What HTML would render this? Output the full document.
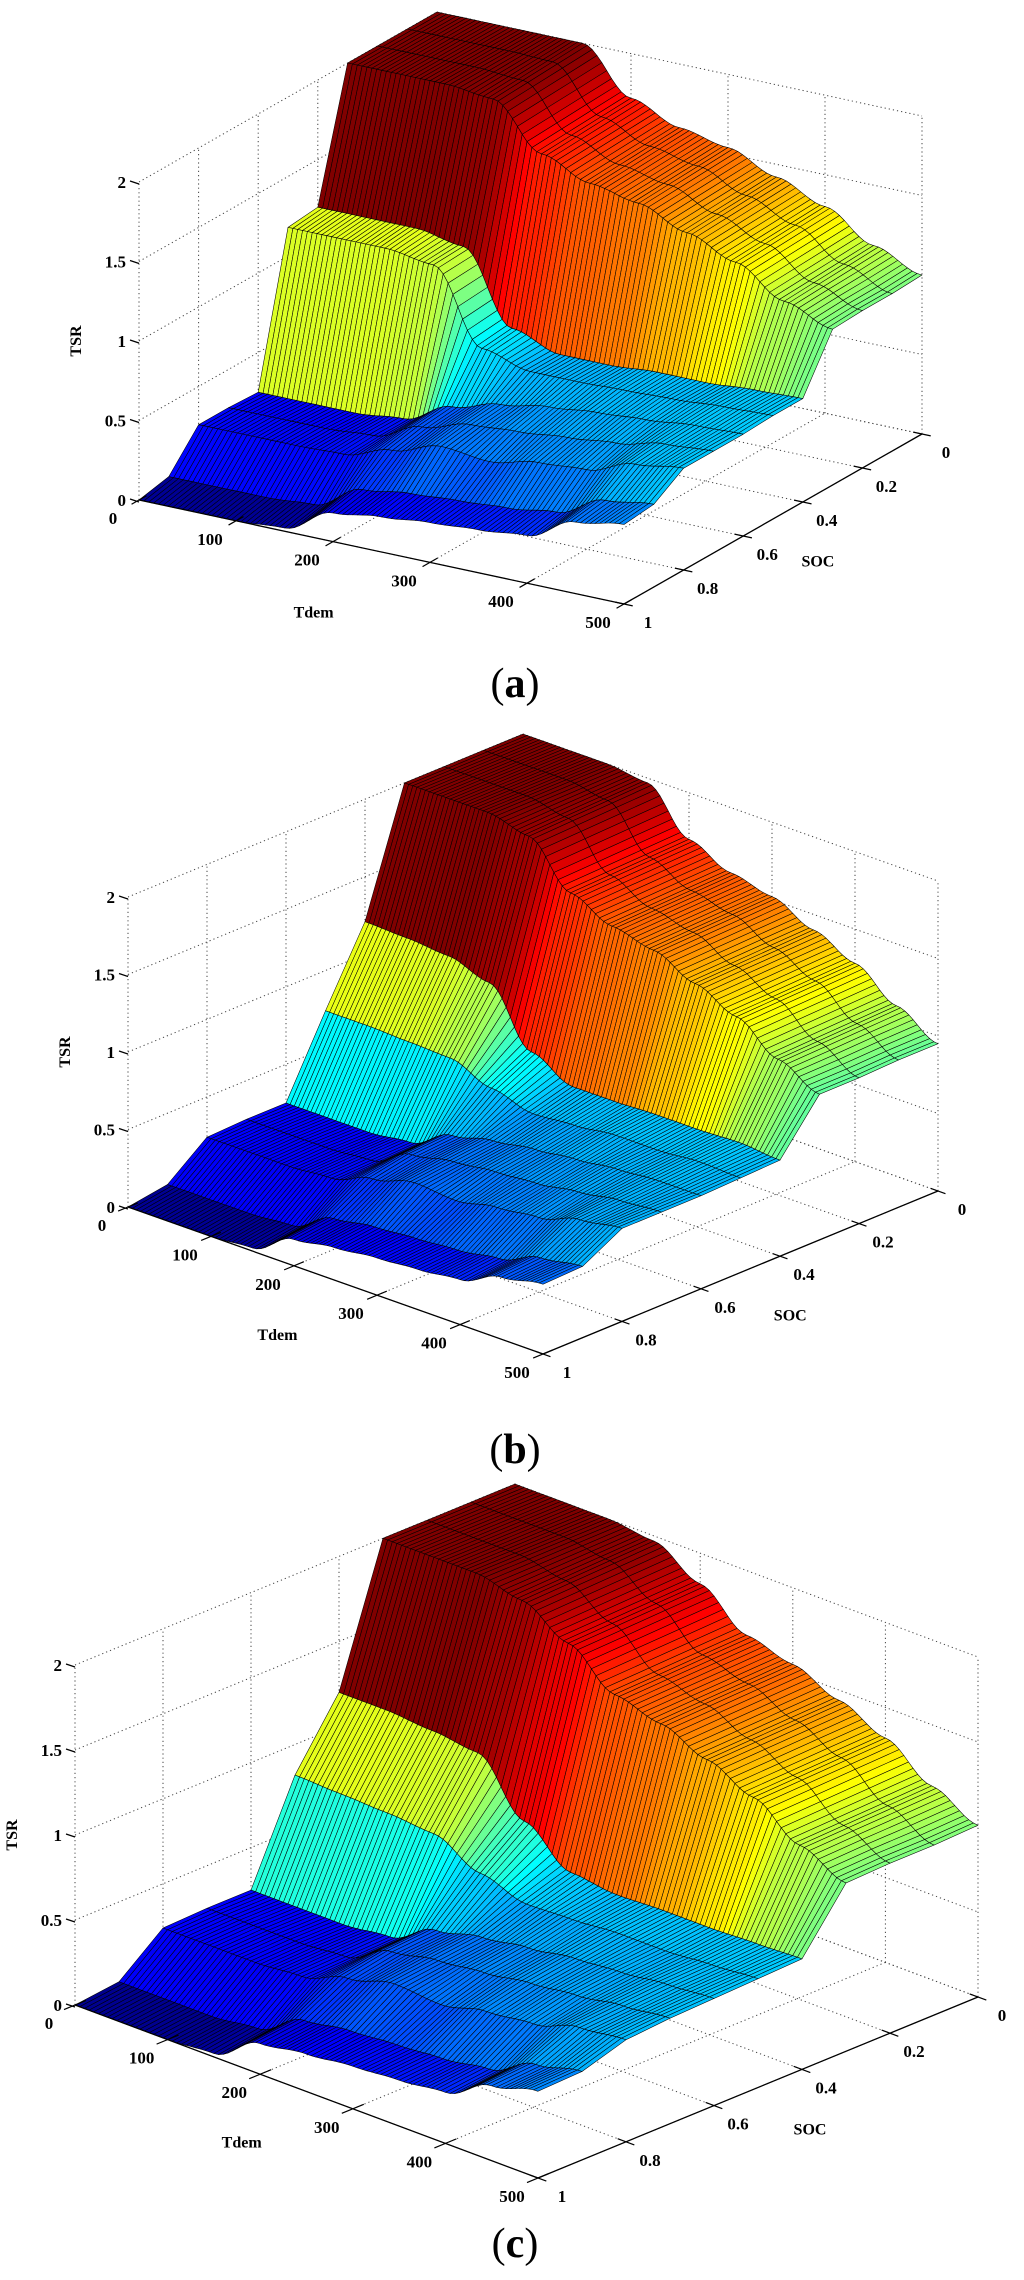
<!DOCTYPE html>
<html>
<head>
<meta charset="utf-8">
<style>
  html, body { margin: 0; padding: 0; background: #ffffff; }
  #fig { display: block; }
  .tick { font-family: "Liberation Serif", serif; font-weight: bold; font-size: 17px; fill: #000; }
  .axlabel { font-family: "Liberation Serif", serif; font-weight: bold; font-size: 16px; fill: #000; }
  .caption { font-family: "Liberation Serif", serif; font-size: 42px; fill: #000; }
</style>
</head>
<body>
<svg id="fig" xmlns="http://www.w3.org/2000/svg" width="1024" height="2280" viewBox="0 0 1024 2280">
  <rect x="0" y="0" width="1024" height="2280" fill="#ffffff"/>
  <g id="panel-a"></g>
  <g id="panel-b"></g>
  <g id="panel-c"></g>
  <text class="caption" x="515" y="697" text-anchor="middle">(<tspan font-weight="bold">a</tspan>)</text>
  <text class="caption" x="515" y="1463" text-anchor="middle">(<tspan font-weight="bold">b</tspan>)</text>
  <text class="caption" x="515" y="2257" text-anchor="middle">(<tspan font-weight="bold">c</tspan>)</text>
</svg>
<script>
// ---- chart data ----
const tdemKnots = [0, 50, 100, 150, 200, 250, 300, 350, 400, 450, 500];
const socRows = [0, 0.1, 0.2, 0.3, 0.4, 0.5, 0.6, 0.7, 0.8, 0.9, 1.0];
const tdemTicks = [0, 100, 200, 300, 400, 500];
const tdemTickLabels = ["0", "100", "200", "300", "400", "500"];
const socTicks = [0, 0.2, 0.4, 0.6, 0.8, 1];
const socTickLabels = ["0", "0.2", "0.4", "0.6", "0.8", "1"];
const tsrTicks = [0, 0.5, 1, 1.5, 2];
const tsrTickLabels = ["0", "0.5", "1", "1.5", "2"];

// TSR values per SOC row (rows) at each Tdem knot (columns)
const tsrA = [
  [2.00, 2.00, 2.00, 2.00, 1.72, 1.60, 1.54, 1.42, 1.30, 1.12, 1.00],
  [2.00, 2.00, 2.00, 1.99, 1.71, 1.59, 1.53, 1.41, 1.29, 1.11, 0.99],
  [2.00, 2.00, 2.00, 1.98, 1.70, 1.58, 1.52, 1.40, 1.28, 1.10, 0.99],
  [2.00, 2.00, 2.00, 1.97, 1.69, 1.57, 1.51, 1.39, 1.27, 1.09, 0.98],
  [1.20, 1.20, 1.20, 1.15, 0.70, 0.60, 0.60, 0.62, 0.62, 0.64, 0.65],
  [1.18, 1.18, 1.18, 1.14, 0.68, 0.60, 0.60, 0.61, 0.62, 0.64, 0.65],
  [0.25, 0.25, 0.25, 0.28, 0.42, 0.50, 0.55, 0.58, 0.60, 0.63, 0.64],
  [0.26, 0.26, 0.26, 0.28, 0.40, 0.48, 0.50, 0.53, 0.56, 0.62, 0.64],
  [0.26, 0.26, 0.26, 0.27, 0.36, 0.45, 0.42, 0.48, 0.50, 0.60, 0.64],
  [0.04, 0.04, 0.04, 0.06, 0.22, 0.26, 0.28, 0.30, 0.34, 0.48, 0.52],
  [0.00, 0.00, 0.00, 0.02, 0.18, 0.22, 0.25, 0.27, 0.30, 0.45, 0.50]
];
const tsrB = [
  [2.00, 2.00, 2.00, 1.97, 1.70, 1.58, 1.52, 1.40, 1.28, 1.10, 0.95],
  [2.00, 2.00, 2.00, 1.96, 1.69, 1.57, 1.51, 1.39, 1.27, 1.09, 0.95],
  [2.00, 2.00, 2.00, 1.95, 1.68, 1.56, 1.50, 1.38, 1.26, 1.08, 0.94],
  [2.00, 2.00, 2.00, 1.94, 1.67, 1.55, 1.49, 1.37, 1.25, 1.07, 0.94],
  [1.21, 1.20, 1.18, 1.10, 0.75, 0.62, 0.62, 0.63, 0.63, 0.64, 0.62],
  [0.74, 0.74, 0.73, 0.72, 0.62, 0.55, 0.57, 0.60, 0.60, 0.62, 0.61],
  [0.25, 0.25, 0.25, 0.28, 0.42, 0.48, 0.52, 0.55, 0.58, 0.60, 0.60],
  [0.25, 0.25, 0.25, 0.27, 0.40, 0.45, 0.48, 0.50, 0.54, 0.58, 0.60],
  [0.24, 0.24, 0.24, 0.26, 0.35, 0.42, 0.40, 0.45, 0.48, 0.56, 0.60],
  [0.04, 0.04, 0.04, 0.06, 0.20, 0.24, 0.26, 0.28, 0.32, 0.42, 0.46],
  [0.00, 0.00, 0.00, 0.02, 0.17, 0.21, 0.24, 0.26, 0.29, 0.40, 0.45]
];
const tsrC = [
  [2.00, 2.00, 2.00, 1.97, 1.82, 1.62, 1.55, 1.44, 1.32, 1.14, 1.01],
  [2.00, 2.00, 2.00, 1.96, 1.81, 1.61, 1.54, 1.43, 1.31, 1.13, 1.00],
  [2.00, 2.00, 2.00, 1.95, 1.80, 1.60, 1.53, 1.42, 1.30, 1.12, 1.00],
  [2.00, 2.00, 2.00, 1.94, 1.79, 1.59, 1.52, 1.41, 1.29, 1.11, 0.99],
  [1.20, 1.20, 1.18, 1.15, 0.85, 0.65, 0.62, 0.63, 0.63, 0.64, 0.65],
  [0.82, 0.81, 0.80, 0.78, 0.65, 0.57, 0.58, 0.60, 0.60, 0.62, 0.64],
  [0.25, 0.25, 0.25, 0.28, 0.42, 0.48, 0.52, 0.56, 0.58, 0.61, 0.63],
  [0.25, 0.25, 0.25, 0.27, 0.40, 0.45, 0.48, 0.52, 0.55, 0.59, 0.62],
  [0.24, 0.24, 0.24, 0.26, 0.35, 0.42, 0.40, 0.46, 0.49, 0.57, 0.60],
  [0.03, 0.03, 0.03, 0.06, 0.21, 0.25, 0.27, 0.29, 0.33, 0.46, 0.52],
  [0.00, 0.00, 0.00, 0.02, 0.18, 0.22, 0.25, 0.27, 0.30, 0.44, 0.51]
];

// ---- projection geometry per panel (layout, not data) ----
const panels = [
  { id: "panel-a", key: "a", data: tsrA, ox: 139, oy: 500,  a: 485, c: 104, b: 298, d: -170, k: 159 },
  { id: "panel-b", key: "b", data: tsrB, ox: 128, oy: 1207, a: 415, c: 147, b: 395, d: -163, k: 155 },
  { id: "panel-c", key: "c", data: tsrC, ox: 75,  oy: 2005, a: 463, c: 173, b: 440, d: -181, k: 170 }
];

const SVGNS = "http://www.w3.org/2000/svg";
const TMAX = 500, ZMAX = 2.0;

function proj(p, tdem, soc, z) {
  const u = tdem / TMAX, v = 1 - soc;
  return [p.ox + p.a * u + p.b * v, p.oy + p.c * u + p.d * v - p.k * z];
}
function jet(val) {
  const x = Math.max(0, Math.min(1, val / ZMAX));
  const cl = t => Math.max(0, Math.min(1, t));
  const r = cl(1.5 - Math.abs(4 * x - 3));
  const g = cl(1.5 - Math.abs(4 * x - 2));
  const b = cl(1.5 - Math.abs(4 * x - 1));
  return "rgb(" + Math.round(r * 255) + "," + Math.round(g * 255) + "," + Math.round(b * 255) + ")";
}
function rowValue(row, tdem) {
  let i = 0;
  while (i < tdemKnots.length - 2 && tdem > tdemKnots[i + 1]) i++;
  const t0 = tdemKnots[i], t1 = tdemKnots[i + 1];
  const f = (tdem - t0) / (t1 - t0);
  const w = (1 - Math.cos(Math.PI * f)) / 2;
  return row[i] * (1 - w) + row[i + 1] * w;
}
function mk(tag, attrs, parent) {
  const el = document.createElementNS(SVGNS, tag);
  for (const k in attrs) el.setAttribute(k, attrs[k]);
  parent.appendChild(el);
  return el;
}
function dotted(p, g, pts, name) {
  const a = proj(p, pts[0], pts[1], pts[2]);
  const b = proj(p, pts[3], pts[4], pts[5]);
  const ln = mk("line", { x1: a[0], y1: a[1], x2: b[0], y2: b[1], stroke: "#444", "stroke-width": 1, "stroke-dasharray": "1.2,3" }, g);
  
  
}

const tdemFine = [];
for (let t = 0; t <= TMAX; t += 5) tdemFine.push(t);

panels.forEach(p => {
  const g = document.getElementById(p.id);

  const grid = mk("g", {}, g);
  
  
  tsrTicks.forEach(z => {
    dotted(p, grid, [0, 1, z, 0, 0, z], "left-wall-gridline");
    dotted(p, grid, [0, 0, z, TMAX, 0, z], "back-wall-gridline");
  });
  socTicks.forEach(s => {
    dotted(p, grid, [0, s, 0, 0, s, 2], "left-wall-vertical-gridline");
    dotted(p, grid, [0, s, 0, TMAX, s, 0], "floor-soc-gridline");
  });
  tdemTicks.forEach(t => {
    dotted(p, grid, [t, 0, 0, t, 0, 2], "back-wall-vertical-gridline");
    dotted(p, grid, [t, 1, 0, t, 0, 0], "floor-tdem-gridline");
  });

  const surf = mk("g", {}, g);
  
  
  const zg = p.data.map(row => tdemFine.map(t => rowValue(row, t)));
  for (let i = 0; i < socRows.length - 1; i++) {
    for (let j = 0; j < tdemFine.length - 1; j++) {
      const p1 = proj(p, tdemFine[j], socRows[i], zg[i][j]);
      const p2 = proj(p, tdemFine[j + 1], socRows[i], zg[i][j + 1]);
      const p3 = proj(p, tdemFine[j + 1], socRows[i + 1], zg[i + 1][j + 1]);
      const p4 = proj(p, tdemFine[j], socRows[i + 1], zg[i + 1][j]);
      const poly = mk("polygon", {
        points: [p1, p2, p3, p4].map(q => q[0].toFixed(1) + "," + q[1].toFixed(1)).join(" "),
        fill: jet(zg[i][j]), stroke: "#000", "stroke-width": 0.55, "stroke-linejoin": "round"
      }, surf);
      
      
    }
  }

  const ax = mk("g", {}, g);
  
  
  const t0 = proj(p, 0, 1, 0), t1 = proj(p, TMAX, 1, 0), s0 = proj(p, TMAX, 0, 0);
  const tAxis = mk("line", { x1: t0[0], y1: t0[1], x2: t1[0], y2: t1[1], stroke: "#000", "stroke-width": 1.3 }, ax);
  
  
  const sAxis = mk("line", { x1: t1[0], y1: t1[1], x2: s0[0], y2: s0[1], stroke: "#000", "stroke-width": 1.3 }, ax);
  
  

  tdemTicks.forEach((t, idx) => {
    const q = proj(p, t, 1, 0);
    const ux = p.b * 0.025, uy = p.d * 0.025;
    const tk = mk("line", { x1: q[0] - ux, y1: q[1] - uy, x2: q[0] + ux, y2: q[1] + uy, stroke: "#000", "stroke-width": 1.2 }, ax);
    
    
    const tx = mk("text", { x: q[0] - 26, y: q[1] + 24, "text-anchor": "middle", class: "tick" }, ax);
    tx.textContent = tdemTickLabels[idx];
    
    
  });
  socTicks.forEach((s, idx) => {
    const q = proj(p, TMAX, s, 0);
    const ux = p.a * 0.018, uy = p.c * 0.018;
    const tk = mk("line", { x1: q[0] - ux, y1: q[1] - uy, x2: q[0] + ux, y2: q[1] + uy, stroke: "#000", "stroke-width": 1.2 }, ax);
    
    
    const tx = mk("text", { x: q[0] + 24, y: q[1] + 24, "text-anchor": "middle", class: "tick" }, ax);
    tx.textContent = socTickLabels[idx];
    
    
  });
  tsrTicks.forEach((z, idx) => {
    const q = proj(p, 0, 1, z);
    const tk = mk("line", { x1: q[0] - 9, y1: q[1] - 1, x2: q[0], y2: q[1] + 2, stroke: "#000", "stroke-width": 1.2 }, ax);
    
    
    const tx = mk("text", { x: q[0] - 13, y: q[1] + 6, "text-anchor": "end", class: "tick" }, ax);
    tx.textContent = tsrTickLabels[idx];
    
    
  });

  const zt = proj(p, 0, 1, 1);
  const zl = mk("text", { x: zt[0] - 58, y: zt[1], "text-anchor": "middle", class: "axlabel", transform: "rotate(-90 " + (zt[0] - 58) + " " + zt[1] + ")" }, ax);
  zl.textContent = "TSR";
  
  
  const tt = proj(p, 180, 1, 0);
  const tl = mk("text", { x: tt[0], y: tt[1] + 80, "text-anchor": "middle", class: "axlabel" }, ax);
  tl.textContent = "Tdem";
  
  
  const st = proj(p, TMAX, 0.45, 0);
  const sl = mk("text", { x: st[0] + 30, y: st[1] + 56, "text-anchor": "middle", class: "axlabel" }, ax);
  sl.textContent = "SOC";
  
  
});
</script>
</body>
</html>
